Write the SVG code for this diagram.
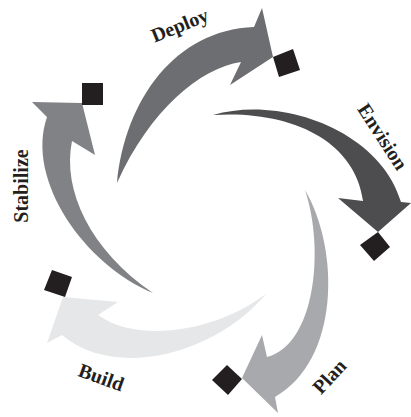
<svg xmlns="http://www.w3.org/2000/svg" width="411" height="417" viewBox="0 0 411 417">
<style>
.sq{fill:#231f20}
.lbl{font-family:"Liberation Serif","Times New Roman",serif;font-weight:bold;font-size:20px;fill:#231f20;text-anchor:middle}
</style>
<rect width="411" height="417" fill="#ffffff"/>
<g id="connectors">
<path id="arrow-deploy" fill="#6d6e71" d="M117,183 C125,100 175,30 254,27 L262,8 L273,57 L230,85 L241,62 C200,68 150,110 117,183 Z"/>
<path id="arrow-envision" fill="#4d4d4f" d="M213,115 C280,95 380,130 401,202 L411,203 L378,232 L338,198 L363,201 C355,140 290,110 213,115 Z"/>
<path id="arrow-plan" fill="#a7a9ac" d="M305,190 C340,250 340,360 275,397 L278,413 L242,378 L262,335 L267,357 C315,345 325,250 305,190 Z"/>
<path id="arrow-build" fill="#e6e7e8" d="M267,293 C215,355 115,380 62,335 L47,343 L63,297 L118,302 L98,315 C140,345 220,330 267,293 Z"/>
<path id="arrow-stabilize" fill="#808285" d="M153,293 C85,265 25,180 47,117 L32,102 L82,103 L95,155 L72,141 C62,190 90,250 153,293 Z"/>
</g>
<g id="deploy">
<polygon class="sq" points="273,57 293,49 300,70 279,77"/>
<text class="lbl" transform="translate(180,26) rotate(-22)" y="6">Deploy</text>
</g>
<g id="envision">
<polygon class="sq" points="378,232 390,247 374,261 360,245"/>
<text class="lbl" transform="translate(382,137) rotate(57)" y="6">Envision</text>
</g>
<g id="plan">
<polygon class="sq" points="242,379 227,365 212,380 228,395"/>
<text class="lbl" transform="translate(330,377) rotate(-47)" y="6">Plan</text>
</g>
<g id="build">
<polygon class="sq" points="52,270 72,277 65,297 44,290"/>
<text class="lbl" transform="translate(101,378) rotate(20)" y="6">Build</text>
</g>
<g id="stabilize">
<polygon class="sq" points="82,83 103,83 103,105 82,105"/>
<text class="lbl" transform="translate(22,186) rotate(-90)" y="6">Stabilize</text>
</g>
</svg>
